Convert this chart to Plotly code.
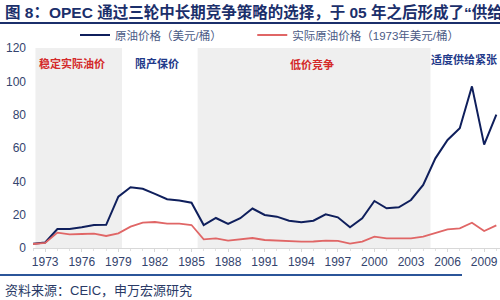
import plotly.graph_objects as go

years = list(range(1972, 2011))
nominal = [2.5, 3.3, 11.4, 11.4, 12.5, 13.8, 13.9, 30.8, 36.4, 35.5, 32.5, 29.3, 28.5, 27.2,
           13.8, 18.0, 14.4, 17.9, 23.7, 19.8, 18.8, 16.4, 15.4, 16.4, 20.2, 18.4, 12.4, 17.8,
           28.2, 23.8, 24.4, 28.8, 37.8, 53.8, 64.8, 71.8, 97.0, 62.0, 80.0]
real = [2.4, 3.0, 9.2, 8.2, 8.4, 8.6, 7.2, 8.8, 12.8, 15.2, 15.6, 14.6, 14.6, 13.8,
        5.2, 5.8, 4.4, 5.2, 6.0, 4.8, 4.4, 4.0, 3.8, 3.9, 4.4, 4.3, 2.6, 3.8,
        6.8, 5.8, 5.6, 5.8, 6.8, 9.2, 11.2, 11.8, 15.2, 10.2, 13.6]
shaded = [(1972.2, 1979.3), (1985.5, 2004.6)]
phases = [("稳定实际油价", 1975.2, 111, "#d42a2a", "center"),
          ("限产保价", 1982.2, 111, "#1f3a8a", "center"),
          ("低价竞争", 1994.9, 110, "#d42a2a", "center"),
          ("适度供给紧张", 2004.5, 113, "#1f3a8a", "left")]
tick_years = list(range(1973, 2010, 3))

W, H = 500, 300
L, R, T, B = 33, 0, 48, 52
pw, ph = W - L - R, H - T - B
def px(x): return (x - L) / pw
def py(y): return (H - B - y) / ph

CJK = "Liberation Sans, Noto Sans CJK SC, sans-serif"
NB = "\u00a0"

fig = go.Figure()
fig.add_trace(go.Scatter(x=years, y=nominal, mode="lines", name="原油价格（美元/桶）" + NB * 8,
                         line=dict(color="#0f1f5c", width=2)))
fig.add_trace(go.Scatter(x=years, y=real, mode="lines", name="实际原油价格（1973年美元/桶）",
                         line=dict(color="#e06666", width=1.8)))

for a, b in shaded:
    fig.add_shape(type="rect", xref="x", yref="paper", x0=a, x1=b, y0=0, y1=1,
                  fillcolor="#efefef", line=dict(width=0), layer="below")

for txt, x, y, c, anc in phases:
    fig.add_annotation(x=x, y=y, xref="x", yref="y", text=f"<b>{txt}</b>", showarrow=False,
                       xanchor=anc, yanchor="middle", font=dict(size=11, color=c, family=CJK))

# title
fig.add_annotation(x=px(3), y=py(12), xref="paper", yref="paper", xanchor="left", yanchor="middle",
                   text="<b>图 8：OPEC 通过三轮中长期竞争策略的选择，于 05 年之后形成了“供给</b>",
                   showarrow=False, font=dict(size=15.5, color="#1b2f6b", family=CJK))
fig.add_shape(type="line", xref="paper", yref="paper", x0=px(0), x1=px(500), y0=py(23), y1=py(23),
              line=dict(color="#1b2f6b", width=2))
# bottom rule and source
fig.add_shape(type="line", xref="paper", yref="paper", x0=px(0), x1=px(462), y0=py(275), y1=py(275),
              line=dict(color="#2b5599", width=2))
fig.add_annotation(x=px(3), y=py(290), xref="paper", yref="paper", xanchor="left", yanchor="middle",
                   text="资料来源：CEIC，申万宏源研究", showarrow=False,
                   font=dict(size=13, color="#2a3a66", family=CJK))

fig.update_layout(
    width=W, height=H, margin=dict(l=L, r=R, t=T, b=B),
    paper_bgcolor="white", plot_bgcolor="white",
    font=dict(family=CJK, size=12, color="#34446e"),
    legend=dict(orientation="h", x=px(75), y=py(35), xanchor="left", yanchor="middle",
                font=dict(size=11.5, color="#4a5a85"), bgcolor="rgba(0,0,0,0)",
                itemwidth=30, tracegroupgap=0),
    showlegend=True,
)
fig.update_xaxes(range=[1972, 2010.3], tickvals=tick_years, ticktext=[str(y) for y in tick_years],
                 showgrid=False, zeroline=False, showline=True, linecolor="#d8d8d8", linewidth=1,
                 ticks="outside", ticklen=3, tickcolor="#d8d8d8",
                 minor=dict(dtick=1, ticks="outside", ticklen=2, tickcolor="#e0e0e0"),
                 tickfont=dict(size=12, color="#34446e"))
fig.update_yaxes(range=[0, 120], dtick=20, showgrid=False, zeroline=False, showline=False,
                 ticks="", ticklabelstandoff=6, tickfont=dict(size=12, color="#34446e"))

fig.write_html("out.html")
